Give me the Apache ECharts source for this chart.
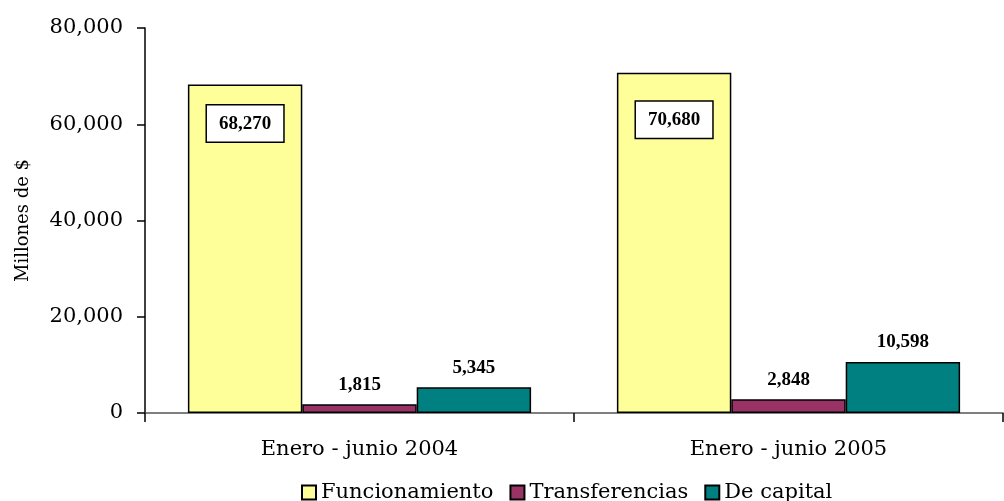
<!DOCTYPE html>
<html>
<head>
<meta charset="utf-8">
<script src="https://cdn.jsdelivr.net/npm/echarts@6/dist/echarts.min.js"></script>
<style>
html, body { margin: 0; padding: 0; background: #fff; }
#chart { width: 1004px; height: 501px; }
</style>
</head>
<body>
<div id="chart"></div>
<script>
// categorias y series (millones de $)
var categories = ['Enero - junio 2004', 'Enero - junio 2005'];
var funcionamiento = [68270, 70680];
var transferencias = [1815, 2848];
var deCapital = [5345, 10598];
var yTicks = [0, 20000, 40000, 60000, 80000];

function fmt(v) {
	return String(v).replace(/\B(?=(\d{3})+(?!\d))/g, ',');
}

var serif = 'DejaVu Serif';
var valueFont = 'Liberation Serif';

var myChart = echarts.init(document.getElementById('chart'));

function outsideLabel() {
	return {
		show: true,
		position: 'top',
		distance: 10,
		fontFamily: valueFont,
		fontWeight: 'bold',
		fontSize: 19,
		color: '#000',
		formatter: function (p) { return fmt(p.value); }
	};
}

// caja blanca dentro de la barra amarilla
var boxDist = [21, 29];

var option = {
	animation: false,
	backgroundColor: '#fff',
	grid: {
		left: 145,
		right: 1,
		top: 28,
		bottom: 88
	},
	legend: {
		data: ['Funcionamiento', 'Transferencias', 'De capital'],
		left: 296,
		top: 477,
		itemWidth: 14,
		itemHeight: 14,
		itemGap: 16,
		icon: 'rect',
		textStyle: {
			fontFamily: serif,
			fontSize: 21,
			color: '#000'
		}
	},
	xAxis: {
		type: 'category',
		data: categories,
		axisLine: { lineStyle: { color: '#555', width: 1.5 } },
		axisTick: { show: true, length: 9, lineStyle: { color: '#000', width: 1.5 } },
		axisLabel: {
			margin: 26,
			fontFamily: serif,
			fontSize: 21,
			color: '#000'
		}
	},
	yAxis: {
		type: 'value',
		min: yTicks[0],
		max: yTicks[yTicks.length - 1],
		interval: yTicks[1] - yTicks[0],
		name: 'Millones de $',
		nameLocation: 'middle',
		nameGap: 113,
		nameTextStyle: {
			fontFamily: serif,
			fontSize: 18,
			color: '#000'
		},
		axisLine: { show: true, lineStyle: { color: '#000', width: 1.5 } },
		axisTick: { show: true, length: 8, lineStyle: { color: '#000', width: 1.5 } },
		splitLine: { show: false },
		axisLabel: {
			margin: 22,
			fontFamily: serif,
			fontSize: 21,
			color: '#000',
			formatter: function (v) { return fmt(v); }
		}
	},
	series: [
		{
			name: 'Funcionamiento',
			type: 'bar',
			data: funcionamiento.map(function (v, i) {
				return { value: v, label: { distance: boxDist[i] } };
			}),
			barGap: '0%',
			barCategoryGap: '20%',
			itemStyle: { color: '#FFFF99', borderColor: '#000', borderWidth: 1.5 },
			label: {
				show: true,
				position: 'insideTop',
				fontFamily: valueFont,
				fontWeight: 'bold',
				fontSize: 19,
				color: '#000',
				backgroundColor: '#fff',
				borderColor: '#000',
				borderWidth: 1.5,
				padding: [9, 12, 8, 12],
				formatter: function (p) { return fmt(p.value); }
			}
		},
		{
			name: 'Transferencias',
			type: 'bar',
			data: transferencias,
			barGap: '0%',
			barCategoryGap: '20%',
			itemStyle: { color: '#993366', borderColor: '#000', borderWidth: 1.5 },
			label: outsideLabel()
		},
		{
			name: 'De capital',
			type: 'bar',
			data: deCapital,
			barGap: '0%',
			barCategoryGap: '20%',
			itemStyle: { color: '#008080', borderColor: '#000', borderWidth: 1.5 },
			label: outsideLabel()
		}
	]
};
myChart.setOption(option);
</script>
</body>
</html>
